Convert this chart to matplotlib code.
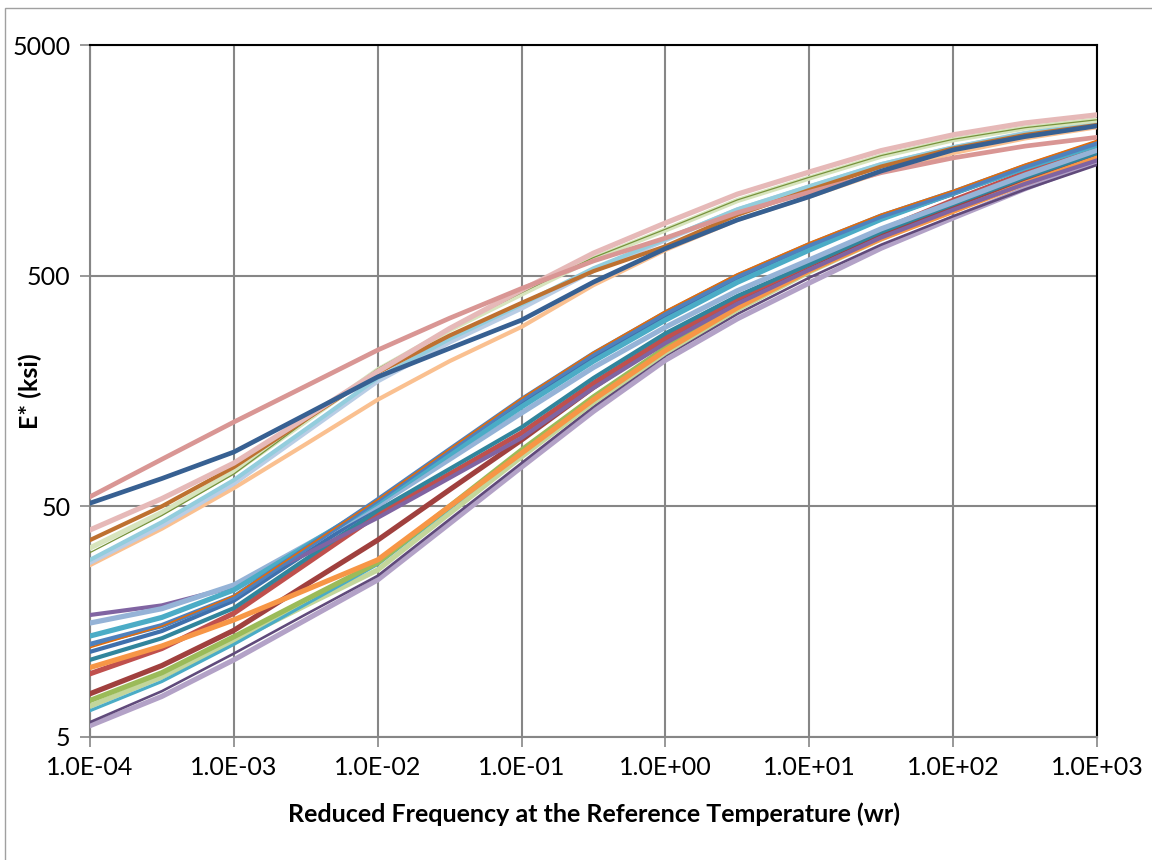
import numpy as np
import matplotlib
matplotlib.use("Agg")
import matplotlib.pyplot as plt
from matplotlib.ticker import FixedLocator, FuncFormatter, NullLocator
from matplotlib.patches import Rectangle

# reduced frequency (Hz): decades and half decades where the curves were read
freq = [1e-4, 3.16e-4, 1e-3, 3.16e-3, 1e-2, 3.16e-2, 1e-1, 3.16e-1,
        1e0, 3.16e0, 1e1, 3.16e1, 1e2, 3.16e2, 1e3]
tick_freq = [1e-4, 1e-3, 1e-2, 1e-1, 1e0, 1e1, 1e2, 1e3]
tick_e = [5, 50, 500, 5000]

# E* (ksi) master curves, upper family
u_rose = [55, 80, 116, 166, 238, 327, 440, 579, 728, 937, 1150, 1398, 1620, 1822, 1990]
u_navy = [51.6, 66, 86, 125, 182, 242, 321, 469, 655, 872, 1100, 1421, 1754, 2004, 2230]
u_pink = [39.5, 54, 77, 121, 192, 295, 433, 626, 846, 1128, 1407, 1742, 2040, 2296, 2490]
u_brown = [35.7, 50, 74, 119, 190, 275, 381, 523, 670, 918, 1175, 1486, 1780, 2037, 2250]
u_sage = [33, 47, 70.5, 117, 195, 291, 416, 593, 789, 1058, 1325, 1648, 1940, 2183, 2365]
u_olive = [31.5, 45.6, 69, 117, 197, 295, 422, 599, 795, 1065, 1335, 1658, 1950, 2190, 2370]
u_sky = [29.3, 42.7, 65, 108, 180, 266, 375, 538, 720, 969, 1220, 1522, 1800, 2068, 2290]
u_powder = [28.6, 41.4, 63, 105, 175, 258, 362, 527, 715, 963, 1211, 1514, 1790, 2068, 2300]
u_peach = [27.8, 40, 60, 93, 145, 213, 300, 455, 646, 872, 1100, 1404, 1700, 1968, 2200]

# E* (ksi) master curves, lower family
l_purple = [16.9, 18.6, 22.4, 31, 44.6, 66.4, 99, 163, 255, 378, 530, 732, 965, 1250, 1580]
l_steel = [15.6, 18.0, 22.8, 33.9, 50.5, 80, 127, 200, 299, 430, 585, 798, 1040, 1365, 1750]
l_cyan = [13.7, 16.5, 21.7, 33.6, 52, 84, 135, 213, 321, 468, 646, 878, 1140, 1466, 1840]
l_blue = [12.6, 15.2, 20.2, 32.8, 53.3, 88, 145, 229, 344, 498, 680, 906, 1150, 1488, 1880]
l_blue2 = [11.7, 14.4, 19.5, 31.2, 50, 84, 140, 222, 335, 483, 660, 884, 1130, 1462, 1850]
l_teal = [10.8, 13.4, 18.1, 29.5, 48, 72.6, 110, 180, 281, 408, 560, 774, 1020, 1332, 1700]
l_orange = [10.0, 12.4, 16.1, 21.7, 29.3, 50, 85, 145, 237, 363, 525, 723, 950, 1256, 1620]
l_red = [9.4, 12.1, 17.2, 28.1, 46, 69, 104, 171, 268, 398, 560, 788, 1060, 1396, 1800]
l_darkred = [7.7, 10.2, 14.5, 22.8, 35.7, 59, 97, 164, 263, 391, 550, 759, 1000, 1318, 1700]
l_green = [7.2, 9.5, 13.6, 19.7, 28.5, 50, 87.7, 149, 243, 371, 535, 742, 985, 1297, 1670]
l_lime = [6.8, 9.1, 13.0, 18.6, 26.5, 46.6, 82, 141, 232, 356, 519, 722, 960, 1269, 1640]
l_aqua = [6.5, 8.7, 12.6, 18.8, 28, 49, 86, 148, 245, 374, 540, 748, 990, 1305, 1680]
l_plum = [5.8, 7.9, 11.5, 17.0, 25, 43.9, 77, 135, 225, 341, 490, 681, 905, 1183, 1510]
l_lilac = [5.6, 7.5, 10.8, 16.1, 24, 42.1, 74, 129, 215, 325, 465, 658, 890, 1191, 1560]
l_amber = [12.2, 15.1, 20.5, 33.1, 53.5, 88.6, 147, 233, 352, 509, 695, 923, 1170, 1521, 1930]

curves = [
    (l_lilac, "#B3A2C7", 5), (l_plum, "#604A7B", 2.5), (l_lime, "#C3D69B", 5),
    (l_aqua, "#4BACC6", 3), (l_green, "#9BBB59", 5), (l_darkred, "#A0403E", 5),
    (l_red, "#C0504D", 5), (l_orange, "#F79646", 5), (l_teal, "#31859C", 4),
    (l_blue2, "#3F70AC", 4), (l_purple, "#8064A2", 4), (l_steel, "#95B3D7", 5),
    (l_cyan, "#4BACC6", 5), (l_blue, "#4F81BD", 5), (l_amber, "#E46C0A", 1.5),
    (u_peach, "#FAC090", 4), (u_powder, "#B9CDE5", 5), (u_sky, "#93CDDD", 4),
    (u_sage, "#D7E4BD", 5), (u_olive, "#77933C", 1.2), (u_brown, "#BE7130", 4),
    (u_pink, "#E6B9B8", 5), (u_rose, "#D99694", 4.5), (u_navy, "#376092", 4.5),
]

plt.rcParams['font.family'] = ['Lato', 'DejaVu Sans']

fig = plt.figure(figsize=(11.52, 8.6), dpi=100)
ax = fig.add_axes([90 / 1152, 1 - 737 / 860, 1007 / 1152, 692 / 860])

for vals, col, lw in curves:
    ax.plot(freq, vals, color=col, linewidth=lw * 0.75, solid_joinstyle='round', zorder=3)

ax.set_xscale('log')
ax.set_yscale('log')
ax.set_xlim(1e-4, 1e3)
ax.set_ylim(5, 5000)

ax.xaxis.set_major_locator(FixedLocator(tick_freq))
ax.xaxis.set_minor_locator(NullLocator())
ax.xaxis.set_major_formatter(FuncFormatter(lambda v, p: f"{v:.1E}"))
ax.yaxis.set_major_locator(FixedLocator(tick_e))
ax.yaxis.set_minor_locator(NullLocator())
ax.yaxis.set_major_formatter(FuncFormatter(lambda v, p: f"{v:g}"))

ax.grid(True, color='#868686', linewidth=1.5, zorder=1)
ax.set_axisbelow(True)
ax.tick_params(axis='both', labelsize=18, length=7, width=1.2, color='#868686',
               direction='out', pad=7)
for side in ['left', 'bottom']:
    ax.spines[side].set_color('#868686')
    ax.spines[side].set_linewidth(1.5)
for side in ['top', 'right']:
    ax.spines[side].set_color('black')
    ax.spines[side].set_linewidth(1.5)

ax.set_xlabel('Reduced Frequency at the Reference Temperature (wr)',
              fontsize=18, fontweight='bold')
ax.set_ylabel('E* (ksi)', fontsize=18, fontweight='bold')
ax.xaxis.set_label_coords(0.5, -0.094)
ax.yaxis.set_label_coords(-0.048, 0.5)

# chart area border
fig.patches.append(Rectangle((5 / 1152, -0.1), 1.2, (852 / 860) + 0.1,
                             transform=fig.transFigure, fill=False,
                             edgecolor='#A0A0A0', linewidth=1))

fig.savefig('out.png', dpi=100)
